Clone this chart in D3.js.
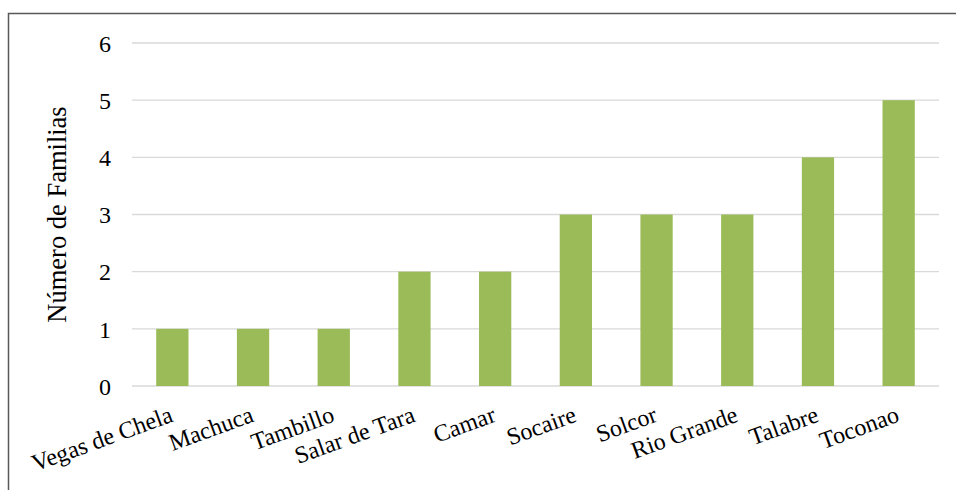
<!DOCTYPE html>
<html>
<head>
<meta charset="utf-8">
<script src="https://cdn.jsdelivr.net/npm/d3@7"></script>
<style>
  html, body { margin: 0; padding: 0; background: #ffffff; }
  svg { display: block; }
  text { font-family: "Liberation Serif", "Times New Roman", serif; fill: #000; }
</style>
</head>
<body>
<svg id="chart" width="956" height="490"></svg>
<script>
const categories = ["Vegas de Chela", "Machuca", "Tambillo", "Salar de Tara", "Camar", "Socaire", "Solcor", "Rio Grande", "Talabre", "Toconao"];
const values = [1, 1, 1, 2, 2, 3, 3, 3, 4, 5];
const yTicks = [0, 1, 2, 3, 4, 5, 6];
const yTitle = "Número de Familias";

const W = 956, H = 490;
const plot = { left: 132, right: 939, top: 43, bottom: 386 };

const svg = d3.select("#chart");

// outer frame (left and top edges visible)
svg.append("path")
  .attr("d", `M8.5,${H} L8.5,13.5 L${W},13.5`)
  .attr("fill", "none")
  .attr("stroke", "#595959")
  .attr("stroke-width", 1.5);

const x = d3.scaleBand()
  .domain(categories)
  .range([plot.left, plot.right])
  .paddingInner(0.6)
  .paddingOuter(0.3);

const y = d3.scaleLinear()
  .domain([0, 6])
  .range([plot.bottom, plot.top]);

// gridlines
svg.append("g")
  .selectAll("line")
  .data(yTicks)
  .join("line")
  .attr("x1", plot.left)
  .attr("x2", plot.right)
  .attr("y1", d => y(d))
  .attr("y2", d => y(d))
  .attr("stroke", "#D9D9D9")
  .attr("stroke-width", 1.3);

// y axis labels
const yAxis = d3.axisLeft(y).tickValues(yTicks).tickSize(0).tickPadding(0).tickFormat(d3.format("d"));
const gy = svg.append("g").attr("transform", `translate(111,0)`).call(yAxis);
gy.select(".domain").remove();
gy.selectAll("text")
  .attr("font-family", "'Liberation Serif', 'Times New Roman', serif")
  .attr("font-size", 24)
  .attr("fill", "#000")
  .attr("dy", "0.34em");

// bars
svg.append("g")
  .selectAll("rect")
  .data(values)
  .join("rect")
  .attr("x", (d, i) => x(categories[i]))
  .attr("width", x.bandwidth())
  .attr("y", d => y(d))
  .attr("height", d => y(0) - y(d))
  .attr("fill", "#9BBB59");

// x axis labels (rotated)
const xAxis = d3.axisBottom(x).tickSize(0).tickPadding(0);
const gx = svg.append("g").attr("transform", `translate(0,${plot.bottom})`).call(xAxis);
gx.select(".domain").remove();
gx.selectAll(".tick text")
  .attr("font-family", "'Liberation Serif', 'Times New Roman', serif")
  .attr("font-size", 24)
  .attr("fill", "#000")
  .attr("text-anchor", "end")
  .attr("x", 0)
  .attr("y", 0)
  .attr("dy", 0)
  .attr("transform", "translate(2,35) rotate(-20)");

// y title
svg.append("text")
  .attr("transform", `translate(66,${(plot.top + plot.bottom) / 2}) rotate(-90)`)
  .attr("text-anchor", "middle")
  .attr("font-size", 26.5)
  .text(yTitle);
</script>
</body>
</html>
